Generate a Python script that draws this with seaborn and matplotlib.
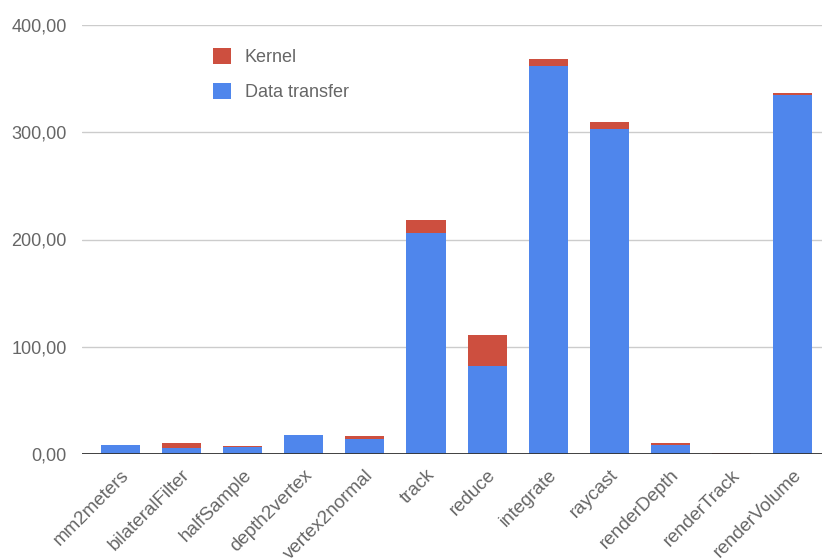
import matplotlib
matplotlib.use("Agg")
import matplotlib.pyplot as plt
from matplotlib.patches import Patch
from matplotlib.ticker import FuncFormatter
import seaborn as sns
import pandas as pd
import numpy as np

# Per-stage timings: data transfer and kernel execution
stages = ["mm2meters", "bilateralFilter", "halfSample", "depth2vertex", "vertex2normal",
          "track", "reduce", "integrate", "raycast", "renderDepth", "renderTrack", "renderVolume"]
data_transfer = [8.7, 5.6, 6.2, 17.7, 14.3, 205.8, 82.3, 362.0, 302.7, 8.4, 0.0, 334.7]
kernel = [0.0, 4.4, 1.2, 0.0, 2.2, 12.4, 28.7, 6.3, 6.6, 1.9, 0.9, 1.6]

BLUE = "#4f86ec"
RED = "#cd4f3f"
GREY = "#666666"

df = pd.DataFrame({
    "stage": stages,
    "transfer": data_transfer,
    "total": np.array(data_transfer) + np.array(kernel),
})

sns.set_style("white")
plt.rcParams["font.family"] = ["Liberation Sans", "DejaVu Sans"]

fig = plt.figure(figsize=(8.22, 5.58), dpi=100)
ax = fig.add_axes([82 / 822, 104 / 558, 740 / 822, 429 / 558])

# stacked bars: full height in red, transfer portion drawn over it in blue
sns.barplot(data=df, x="stage", y="total", color=RED, width=0.64,
            saturation=1, ax=ax, zorder=3, linewidth=0)
sns.barplot(data=df, x="stage", y="transfer", color=BLUE, width=0.64,
            saturation=1, ax=ax, zorder=4, linewidth=0)

ax.set_ylim(0, 400)
ax.set_xlim(-0.63, 11.48)
ax.set_yticks([0, 100, 200, 300, 400])
ax.yaxis.set_major_formatter(FuncFormatter(lambda v, p: f"{v:.2f}".replace(".", ",")))
ax.grid(axis="y", color="#cccccc", linewidth=1, zorder=0)
ax.grid(axis="x", visible=False)
ax.axhline(0, color="#333333", linewidth=1.3, zorder=5)
for s in ax.spines.values():
    s.set_visible(False)

ax.set_xlabel("")
ax.set_ylabel("")
ax.tick_params(axis="y", length=0, pad=11, labelsize=13, labelcolor=GREY)
ax.tick_params(axis="x", length=0, pad=9, labelsize=13.5, labelcolor=GREY)
plt.setp(ax.get_xticklabels(), rotation=45, ha="right", rotation_mode="anchor")

handles = [Patch(facecolor=RED, edgecolor="none", label="Kernel"),
           Patch(facecolor=BLUE, edgecolor="none", label="Data transfer")]
leg = ax.legend(handles=handles, loc="upper left", bbox_to_anchor=(0.155, 0.985),
                frameon=False, fontsize=13, handlelength=1.0, handleheight=1.0,
                handletextpad=0.75, labelspacing=0.95)
for t in leg.get_texts():
    t.set_color(GREY)

fig.savefig("out.png", dpi=100)
